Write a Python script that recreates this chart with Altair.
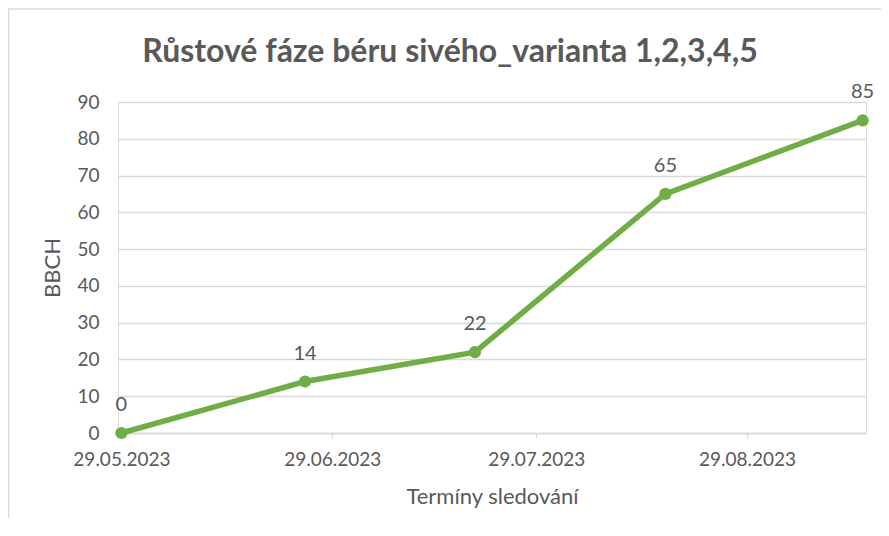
import altair as alt
import pandas as pd

# --- data ---
dates = ["2023-05-29T00:00:00", "2023-06-25T00:00:00", "2023-07-20T00:00:00",
         "2023-08-17T00:00:00", "2023-09-15T00:00:00"]
bbch = [0, 14, 22, 65, 85]
y_ticks = [0, 10, 20, 30, 40, 50, 60, 70, 80, 90]
title_text = "Růstové fáze béru sivého_varianta 1,2,3,4,5"
x_title = "Termíny sledování"
y_title = "BBCH"

df = pd.DataFrame({"datum": dates, "bbch": bbch})

FONT = "Lato"
GRAY = "#595959"
GRID = "#d9d9d9"
GREEN = "#70AD47"

x_scale = alt.Scale(domain=[alt.DateTime(year=2023, month=5, date=28, hours=12),
                            alt.DateTime(year=2023, month=9, date=15, hours=12)])
x_ticks = [alt.DateTime(year=2023, month=m, date=29) for m in (5, 6, 7, 8)]

x_enc = alt.X("datum:T", scale=x_scale,
              axis=alt.Axis(values=x_ticks, format="%d.%m.%Y", title=x_title,
                            grid=False, domainColor=GRID, domainWidth=1.5,
                            tickColor=GRID, tickWidth=1.5, tickSize=5,
                            labelPadding=12, labelFontSize=19, labelColor=GRAY,
                            labelFont=FONT, labelFlush=False, labelOverlap=False,
                            titleFont=FONT, titleFontSize=22, titleColor=GRAY,
                            titleFontWeight="normal", titlePadding=17))
y_enc = alt.Y("bbch:Q", scale=alt.Scale(domain=[0, 90]),
              axis=alt.Axis(values=y_ticks, title=y_title, domain=False, ticks=False,
                            gridColor=GRID, gridWidth=1.5, labelOverlap=False,
                            labelPadding=19, labelFontSize=19, labelColor=GRAY,
                            labelFont=FONT, titleFont=FONT, titleFontSize=22,
                            titleColor=GRAY, titleFontWeight="normal", titlePadding=12))

base = alt.Chart(df).encode(x=x_enc, y=y_enc)

line = base.mark_line(color=GREEN, strokeWidth=5.5)
points = base.mark_point(filled=True, color=GREEN, size=150, opacity=1)
labels = base.mark_text(font=FONT, fontSize=20, color=GRAY, dy=-22,
                        baseline="alphabetic").encode(text="bbch:Q")

title = alt.Chart(pd.DataFrame({"t": [title_text]})).mark_text(
    font=FONT, fontSize=32, fontWeight="bold", color=GRAY, align="center",
    baseline="alphabetic").encode(text="t:N", x=alt.value(332), y=alt.value(-40))

border_top = alt.Chart(pd.DataFrame({"t": [0]})).mark_rule(
    color=GRID, strokeWidth=1.5, clip=False).encode(
    x=alt.value(-110), x2=alt.value(770), y=alt.value(-93))
border_left = alt.Chart(pd.DataFrame({"t": [0]})).mark_rule(
    color=GRID, strokeWidth=1.5, clip=False).encode(
    x=alt.value(-109.5), y=alt.value(-93), y2=alt.value(440))

chart = alt.layer(border_top, border_left, line, points, labels, title).properties(
    width=748, height=331,
    padding={"left": 110, "top": 94, "right": 15, "bottom": 85},
    autosize=alt.AutoSizeParams(type="none"),
).configure_view(stroke=None).configure(background="white")

chart.save("out.html", embed_options={"renderer": "svg", "actions": False})
